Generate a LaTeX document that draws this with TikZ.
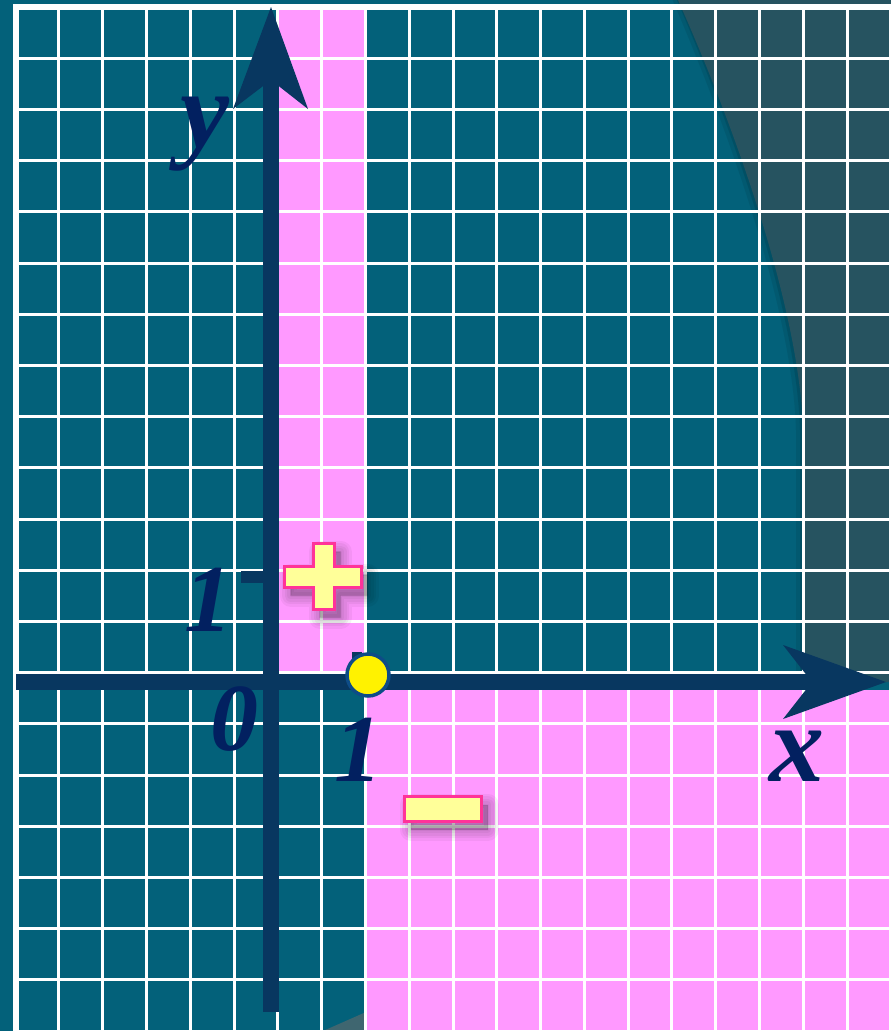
\documentclass[tikz,border=0pt]{standalone}
\usepackage{fontspec}
\newfontfamily\labfont{Liberation Serif}
\definecolor{teal0}{RGB}{3,97,122}
\definecolor{darkov}{RGB}{38,83,96}
\definecolor{pinkreg}{RGB}{255,153,255}
\definecolor{axiscol}{RGB}{8,55,96}
\definecolor{labcol}{RGB}{2,32,96}
\definecolor{signfill}{RGB}{255,255,153}
\definecolor{signborder}{RGB}{255,51,153}
\definecolor{ptborder}{RGB}{14,76,135}
\definecolor{curlcol}{RGB}{63,102,112}
\tikzset{
  lab/.style={text=labcol, font=\labfont\bfseries\itshape\fontsize{96}{96}\selectfont, inner sep=0pt, anchor=base},
  letter/.style={lab, font=\labfont\bfseries\itshape\fontsize{110}{110}\selectfont},
  signshape/.style={fill=signfill, draw=signborder, line width=3.5pt, line join=miter},
  gridline/.style={white, line width=3pt},
  softshadow/.style={draw=black, fill=black, line width=#1, line join=round, opacity=0.045},
}
\begin{document}
\begin{tikzpicture}[x=1pt,y=-1pt]
\useasboundingbox (0,0) rectangle (891,1031);
% background
\fill[teal0] (0,0) rectangle (891,1031);
% dark overlay with shadow edge
\draw[black, opacity=0.08, line width=14pt] (678,-5) .. controls (745,150) and (800,320) .. (803,430) -- (803,682);
\draw[black, opacity=0.10, line width=6pt] (678,-5) .. controls (745,150) and (800,320) .. (803,430) -- (803,682);
\fill[darkov] (678,0) .. controls (745,150) and (800,320) .. (803,430) -- (803,682) -- (891,682) -- (891,0) -- cycle;
% pink regions
\fill[pinkreg] (278,10) rectangle (366,674);
\fill[pinkreg] (366,690) rectangle (891,1031);
% bottom curl
\fill[curlcol] (323,1031) -- (366,1012) -- (366,1031) -- cycle;
% grid
\foreach \k in {1,...,20} \draw[gridline] ({15.2+43.78*\k},4) -- ({15.2+43.78*\k},1031);
\foreach \k in {1,...,20} \draw[gridline] (13,{7+51.2*\k}) -- (891,{7+51.2*\k});
\fill[white] (13,4) rectangle (19,1031);
\fill[white] (13,4) rectangle (891,10);
% axes
\coordinate (O) at (271,682);
\fill[axiscol] (263,80) rectangle (279,1012);
\fill[axiscol] (271,7) -- (308,109) -- (271,80) -- (233,109) -- cycle;
\fill[axiscol] (16,674) rectangle (812,690);
\fill[axiscol] (886,682) -- (783,719) -- (812,682) -- (783,645) -- cycle;
% ticks
\fill[axiscol] (241,571) rectangle (271,583);
\fill[axiscol] (352,652) rectangle (362,682);
% labels
\node[letter] (ylab) at (205,147) {y};
\node[letter] (xlab) at (797,781) {x};
\node[lab] (one-y) at (208,631) {1};
\node[lab] (zero) at (234,750) {0};
\node[lab] (one-x) at (358,781) {1};
% plus sign with soft shadow
\begin{scope}[shift={(6,8)}]
\foreach \w in {22,17,12,7,2}
  \path[softshadow=\w pt] (284.5,566.5) -- (313.5,566.5) -- (313.5,543.5) -- (334.5,543.5) -- (334.5,566.5) -- (361.5,566.5) -- (361.5,587.5) -- (334.5,587.5) -- (334.5,609.5) -- (313.5,609.5) -- (313.5,587.5) -- (284.5,587.5) -- cycle;
\end{scope}
\draw[signshape] (284.5,566.5) -- (313.5,566.5) -- (313.5,543.5) -- (334.5,543.5) -- (334.5,566.5) -- (361.5,566.5) -- (361.5,587.5) -- (334.5,587.5) -- (334.5,609.5) -- (313.5,609.5) -- (313.5,587.5) -- (284.5,587.5) -- cycle;
% minus sign with soft shadow
\begin{scope}[shift={(6,8)}]
\foreach \w in {22,17,12,7,2}
  \path[softshadow=\w pt] (404.5,796.5) rectangle (481.5,821.5);
\end{scope}
\draw[signshape] (404.5,796.5) rectangle (481.5,821.5);
% point
\node[circle, fill=yellow, draw=ptborder, line width=3.5pt, minimum size=42pt, inner sep=0pt] (pt) at (368,675) {};
\end{tikzpicture}
\end{document}
